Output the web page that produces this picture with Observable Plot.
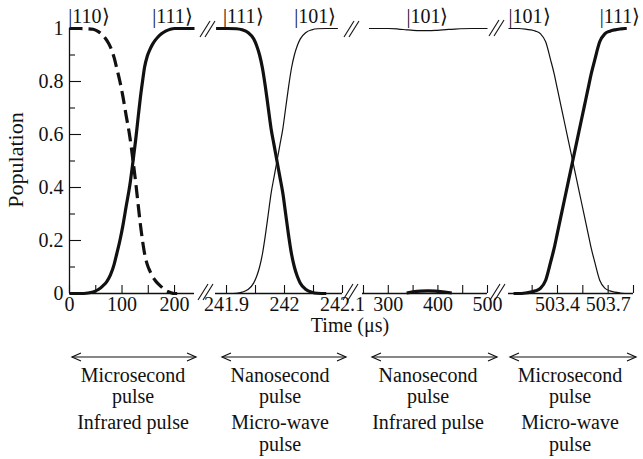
<!DOCTYPE html>
<html><head><meta charset="utf-8">
<script src="https://cdn.jsdelivr.net/npm/d3@7"></script>
<script src="https://cdn.jsdelivr.net/npm/@observablehq/plot@0.6"></script>
<style>
body{margin:0;background:#fff;}
#chart{position:relative;width:643px;height:459px;font-family:'Liberation Serif','Times New Roman',serif;color:#111;}
#chart svg{position:absolute;left:0;top:0;overflow:visible;}
</style></head><body><div id="chart"></div>
<script>
// ---------- data ----------
// Panel 1: microsecond infrared pulse (time in µs)
const p1Time   = [0, 20, 35, 45, 55, 63, 71, 78, 85, 90, 96, 102, 108, 115, 121, 126, 131, 135, 139, 143, 148, 153, 158, 163, 168, 175, 183, 192, 200, 205, 238];
const p1Ket111 = [0, 0, 0.002, 0.006, 0.015, 0.028, 0.045, 0.07, 0.11, 0.15, 0.2, 0.26, 0.33, 0.41, 0.5, 0.58, 0.67, 0.74, 0.8, 0.855, 0.895, 0.92, 0.94, 0.955, 0.967, 0.98, 0.99, 0.997, 1, 1, 1];
const p1Ket110 = [1, 1, 0.999, 0.997, 0.988, 0.975, 0.955, 0.93, 0.89, 0.85, 0.8, 0.74, 0.67, 0.59, 0.5, 0.42, 0.33, 0.26, 0.2, 0.15, 0.11, 0.085, 0.065, 0.05, 0.038, 0.025, 0.012, 0.004, 0, 0, null];
const p1Ticks = [0, 50, 100, 150, 200];
const p1Labels = [0, 100, 200];
const p1KetText = ["|110⟩", "|111⟩"];
const p1KetTime = [37, 196];

// Panel 2: nanosecond micro-wave pulse
const p2Time   = [241.882, 241.902, 241.917, 241.927, 241.937, 241.947, 241.952, 241.957, 241.962, 241.967, 241.972, 241.977, 241.982, 241.987, 241.992, 241.997, 242.002, 242.007, 242.012, 242.017, 242.022, 242.027, 242.037, 242.047, 242.057, 242.072, 242.092];
const p2Ket111 = [1, 1, 0.999, 0.995, 0.985, 0.96, 0.935, 0.9, 0.85, 0.78, 0.7, 0.62, 0.56, 0.5, 0.44, 0.38, 0.3, 0.22, 0.15, 0.1, 0.065, 0.04, 0.015, 0.005, 0.001, 0, null];
const p2Ket101 = [null, 0, 0.001, 0.005, 0.015, 0.04, 0.065, 0.1, 0.15, 0.22, 0.3, 0.38, 0.44, 0.5, 0.56, 0.62, 0.7, 0.78, 0.85, 0.9, 0.935, 0.96, 0.985, 0.995, 0.999, 1, 1];
const p2Ticks = [241.9, 241.95, 242, 242.05, 242.1];
const p2Labels = [241.9, 242, 242.1];
const p2KetText = ["|111⟩", "|101⟩"];
const p2KetTime = [241.929, 242.053];

// Panel 3: nanosecond infrared pulse
const p3Time   = [261, 280, 300, 320, 337, 350, 365, 380, 395, 410, 428, 445, 470, 500];
const p3Ket101 = [1, 1, 1, 0.998, 0.995, 0.993, 0.992, 0.992, 0.993, 0.995, 0.997, 0.999, 1, 1];
const p3Ket111 = [null, null, null, null, 0.002, 0.006, 0.009, 0.01, 0.009, 0.006, 0.002, null, null, null];
const p3Ticks = [250, 300, 350, 400, 450, 500];
const p3Labels = [300, 400, 500];
const p3KetText = ["|101⟩"];
const p3KetTime = [379];

// Panel 4: microsecond micro-wave pulse
const p4Time   = [503.11, 503.14, 503.17, 503.21, 503.24, 503.27, 503.3, 503.33, 503.36, 503.38, 503.4, 503.42, 503.44, 503.465, 503.49, 503.515, 503.54, 503.56, 503.58, 503.6, 503.62, 503.65, 503.68, 503.71, 503.74, 503.77, 503.8, 503.81];
const p4Ket101 = [1, 1, 1, 0.998, 0.995, 0.99, 0.98, 0.95, 0.88, 0.83, 0.77, 0.71, 0.65, 0.575, 0.5, 0.425, 0.35, 0.29, 0.23, 0.17, 0.12, 0.05, 0.02, 0.01, 0.005, 0.002, 0, null];
const p4Ket111 = [null, 0, 0, 0.002, 0.005, 0.01, 0.02, 0.05, 0.12, 0.17, 0.23, 0.29, 0.35, 0.425, 0.5, 0.575, 0.65, 0.71, 0.77, 0.83, 0.88, 0.95, 0.98, 0.99, 0.995, 0.998, 1, 1];
const p4Ticks = [503.25, 503.4, 503.55, 503.7, 503.85];
const p4Labels = [503.4, 503.7];
const p4KetText = ["|101⟩", "|111⟩"];
const p4KetTime = [503.235, 503.77];

// y axis
const yMajor = [0, 0.2, 0.4, 0.6, 0.8, 1];
const yMinor = [0.1, 0.3, 0.5, 0.7, 0.9];

// annotation texts
const rowPulse = ["Microsecond", "Nanosecond", "Nanosecond", "Microsecond"];
const rowPulse2 = ["pulse", "pulse", "pulse", "pulse"];
const rowKind = ["Infrared pulse", "Micro-wave", "Infrared pulse", "Micro-wave"];
const rowKind2 = ["", "pulse", "", "pulse"];

// ---------- layout ----------
const W = 643, H = 330, MT = 28, MB = 37;
const FONT = "'Liberation Serif', 'Times New Roman', Tinos, serif";
const FS = 20;
const FS2 = 20;
const INK = "#111";

function lineMark(times, vals, thick, dash) {
  return Plot.line(times, {
    x: d => d, y: (d, i) => vals[i], curve: "monotone-x",
    stroke: INK, strokeWidth: thick ? 3.2 : 1.2,
    strokeDasharray: dash ? "13,6" : null, strokeLinecap: "butt"
  });
}

function panel({domain, left, right, ticks, labels, series, ketText, ketTime, yAxis}) {
  const marks = [
    Plot.ruleY([0], {stroke: INK, strokeWidth: 1.3}),
    Plot.axisX(ticks, {tickSize: -8, stroke: INK, strokeWidth: 1.1, fill: "none", tickFormat: () => "", label: null}),
    Plot.axisX(labels, {tickSize: 0, tickPadding: 3, fontSize: FS, fill: INK, tickFormat: d => String(d), label: null})
  ];
  if (yAxis) {
    marks.push(
      Plot.ruleX([domain[0]], {stroke: INK, strokeWidth: 1.3}),
      Plot.axisY(yMajor, {tickSize: -12, stroke: INK, strokeWidth: 1.1, fill: "none", tickFormat: () => "", label: null}),
      Plot.axisY(yMinor, {tickSize: -6, stroke: INK, strokeWidth: 1.1, fill: "none", tickFormat: () => "", label: null}),
      Plot.axisY(yMajor, {tickSize: 0, tickPadding: 6, fontSize: FS, fill: INK, tickFormat: d => String(d), label: null})
    );
  }
  for (const s of series) marks.push(lineMark(s.t, s.v, s.thick, s.dash));
  marks.push(Plot.text(ketText, {x: (d, i) => ketTime[i], y: () => 1, dy: -12, fontSize: FS, fill: INK, text: d => d}));
  return Plot.plot({
    width: W, height: H, marginTop: MT, marginBottom: MB,
    marginLeft: left, marginRight: W - right,
    x: {domain, axis: null}, y: {domain: [0, 1], axis: null},
    style: {background: "transparent", overflow: "visible", fontFamily: FONT, fontSize: FS + "px", color: INK},
    marks
  });
}

const chart = document.getElementById("chart");
chart.append(panel({domain: [0, 238], left: 69, right: 194, ticks: p1Ticks, labels: p1Labels,
  series: [{t: p1Time, v: p1Ket110, thick: true, dash: true}, {t: p1Time, v: p1Ket111, thick: true}],
  ketText: p1KetText, ketTime: p1KetTime, yAxis: true}));
chart.append(panel({domain: [241.881, 242.1], left: 215, right: 342, ticks: p2Ticks, labels: p2Labels,
  series: [{t: p2Time, v: p2Ket101, thick: false}, {t: p2Time, v: p2Ket111, thick: true}],
  ketText: p2KetText, ketTime: p2KetTime}));
chart.append(panel({domain: [248, 500], left: 362, right: 487, ticks: p3Ticks, labels: p3Labels,
  series: [{t: p3Time, v: p3Ket101, thick: false}, {t: p3Time, v: p3Ket111, thick: true}],
  ketText: p3KetText, ketTime: p3KetTime}));
chart.append(panel({domain: [503.11, 503.85], left: 508, right: 633, ticks: p4Ticks, labels: p4Labels,
  series: [{t: p4Time, v: p4Ket101, thick: false}, {t: p4Time, v: p4Ket111, thick: true}],
  ketText: p4KetText, ketTime: p4KetTime}));

// ---------- overlay annotations ----------
const ov = d3.create("svg").attr("width", W).attr("height", 459)
  .style("font-family", FONT).style("font-size", FS2 + "px");
const breaks = [[207, 292], [352, 292], [499, 292], [209, 29], [353, 29], [498, 28]];
for (const [cx, cy] of breaks) {
  for (const off of [-5, 0]) {
    ov.append("line").attr("x1", cx + off - 4).attr("y1", cy + 8).attr("x2", cx + off + 6).attr("y2", cy - 8)
      .attr("stroke", INK).attr("stroke-width", 1.1);
  }
}
ov.append("text").attr("transform", "translate(18,160) rotate(-90)").attr("text-anchor", "middle")
  .attr("dominant-baseline", "middle").attr("fill", INK).style("font-size", "22px").text("Population");
ov.append("text").attr("x", 350).attr("y", 327).attr("text-anchor", "middle").attr("dominant-baseline", "middle")
  .attr("fill", INK).text("Time (μs)");
const arrows = [[72, 196], [222, 346], [372, 497], [510, 636]];
const ay = 357;
for (const [a, b] of arrows) {
  ov.append("line").attr("x1", a).attr("x2", b).attr("y1", ay).attr("y2", ay).attr("stroke", INK).attr("stroke-width", 1.2);
  ov.append("path").attr("d", `M${a + 9},${ay - 4}L${a},${ay}L${a + 9},${ay + 4}`).attr("fill", "none").attr("stroke", INK).attr("stroke-width", 1.2);
  ov.append("path").attr("d", `M${b - 9},${ay - 4}L${b},${ay}L${b - 9},${ay + 4}`).attr("fill", "none").attr("stroke", INK).attr("stroke-width", 1.2);
}
const cols = [133, 280, 428, 570];
const rows = [[rowPulse, 377], [rowPulse2, 398], [rowKind, 424], [rowKind2, 446]];
for (const [arr, y] of rows) {
  arr.forEach((s, i) => {
    if (s) ov.append("text").attr("x", cols[i]).attr("y", y).attr("text-anchor", "middle")
      .attr("dominant-baseline", "middle").attr("fill", INK).text(s);
  });
}
chart.append(ov.node());
</script></body></html>
